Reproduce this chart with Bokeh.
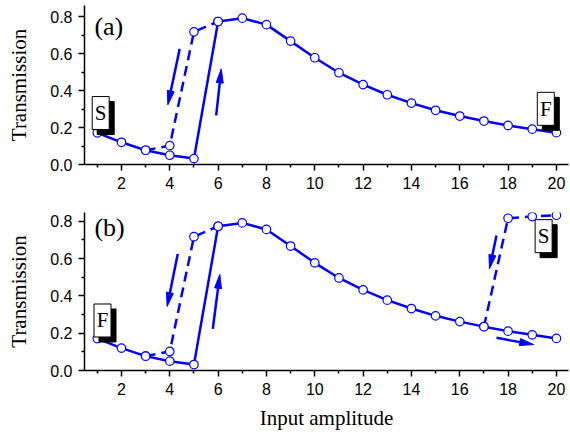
import math
from bokeh.plotting import figure
from bokeh.layouts import column
from bokeh.models import Range1d, FixedTicker, NumeralTickFormatter
from bokeh.core.properties import value
from bokeh.embed import file_html
from bokeh.resources import INLINE

# ---------------- data ----------------
amplitude = list(range(1, 21))
trans_forward = [0.171, 0.120, 0.077, 0.050, 0.032, 0.773, 0.791, 0.756, 0.667, 0.577,
                 0.496, 0.432, 0.377, 0.332, 0.293, 0.262, 0.235, 0.211, 0.191, 0.172]
# backward (dashed) branch near the left jump
amp_back_left = [3, 4, 5, 6]
trans_back_left = [0.077, 0.102, 0.717, 0.773]
# upper (dashed) branch on the right, panel (b)
amp_up_right = [17, 18, 19, 20]
trans_up_right = [0.235, 0.816, 0.825, 0.832]

x_ticks = [2, 4, 6, 8, 10, 12, 14, 16, 18, 20]
x_minor = [1, 3, 5, 7, 9, 11, 13, 15, 17, 19]
y_ticks = [0.0, 0.2, 0.4, 0.6, 0.8]
y_minor = [0.1, 0.3, 0.5, 0.7]

panel_labels = ["(a)", "(b)"]

# annotation placement (data coordinates)
label_pos = [(0.88, 0.746), (0.88, 0.766)]
boxes_a = [("S", 1.14, 0.278), ("F", 19.56, 0.301)]
boxes_b = [("F", 1.215, 0.268), ("S", 19.47, 0.72)]
arrows_a = [(4.41, 0.625, 3.92, 0.323), (5.92, 0.265, 6.13, 0.517)]
arrows_b = [(4.33, 0.625, 3.89, 0.343), (5.78, 0.223, 6.07, 0.515),
            (17.52, 0.723, 17.23, 0.545), (17.52, 0.175, 19.06, 0.139)]

BLUE = "#0000ff"
SANS = "Liberation Sans"
SERIF = "Liberation Serif"

X_START, X_END = 0.47, 20.5
FIG_W = 569
BORDER_L, BORDER_R = 84, 1
FRAME_W = FIG_W - BORDER_L - BORDER_R


def make_panel(height, border_top, border_bottom, y_end, label, lpos, boxes, arrows,
               upper_right, xlabel):
    frame_h = height - border_top - border_bottom
    px_x = FRAME_W / (X_END - X_START)
    px_y = frame_h / y_end
    p = figure(width=FIG_W, height=height,
               x_range=Range1d(X_START, X_END), y_range=Range1d(0, y_end),
               output_backend="svg", toolbar_location=None,
               min_border_left=BORDER_L, min_border_right=BORDER_R,
               min_border_top=border_top, min_border_bottom=border_bottom)
    p.xgrid.visible = False
    p.ygrid.visible = False
    p.outline_line_color = None

    for ax in (p.xaxis[0], p.yaxis[0]):
        ax.axis_line_color = "black"
        ax.axis_line_width = 1.5
        ax.major_tick_line_width = 1.5
        ax.minor_tick_line_width = 1.5
        ax.major_tick_in = 0
        ax.major_tick_out = 6
        ax.minor_tick_in = 0
        ax.minor_tick_out = 3
        ax.major_label_text_font = SANS
        ax.major_label_text_font_size = "16px"
        ax.major_label_text_color = "black"
        ax.axis_label_text_font = SERIF
        ax.axis_label_text_font_size = "21px"
        ax.axis_label_text_font_style = "normal"
        ax.axis_label_text_color = "black"

    p.xaxis.ticker = FixedTicker(ticks=x_ticks, minor_ticks=x_minor)
    p.yaxis.ticker = FixedTicker(ticks=y_ticks, minor_ticks=y_minor)
    p.yaxis.formatter = NumeralTickFormatter(format="0.0")
    p.xaxis.major_label_standoff = 6
    p.yaxis.major_label_standoff = 6
    p.yaxis.axis_label = "Transmission"
    p.yaxis.axis_label_standoff = 16
    if xlabel:
        p.xaxis.axis_label = xlabel
        p.xaxis.axis_label_standoff = 8

    # lines
    p.line(amp_back_left, trans_back_left, line_color=BLUE, line_width=2.5, line_dash="10 6")
    if upper_right:
        p.line(amp_up_right, trans_up_right, line_color=BLUE, line_width=2.5, line_dash="10 6")
    p.line(amplitude, trans_forward, line_color=BLUE, line_width=2.5)

    # markers
    p.scatter(amp_back_left, trans_back_left, size=8.5, fill_color="white",
              line_color=BLUE, line_width=1.2)
    if upper_right:
        p.scatter(amp_up_right, trans_up_right, size=8.5, fill_color="white",
                  line_color=BLUE, line_width=1.2)
    p.scatter(amplitude, trans_forward, size=8.5, fill_color="white",
              line_color=BLUE, line_width=1.2)

    # arrows: shaft + narrow filled head (head computed in pixel space)
    head_len, head_half = 14.0, 3.5
    sx0, sy0, sx1, sy1, hx, hy = [], [], [], [], [], []
    for (xs, ys, xe, ye) in arrows:
        dxp = (xe - xs) * px_x
        dyp = (ye - ys) * px_y
        L = math.hypot(dxp, dyp)
        ux, uy = dxp / L, dyp / L
        nx, ny = -uy, ux
        base_x = xe - ux * head_len / px_x
        base_y = ye - uy * head_len / px_y
        sx0.append(xs); sy0.append(ys)
        sx1.append(xe - ux * (head_len - 3) / px_x); sy1.append(ye - uy * (head_len - 3) / px_y)
        hx.append([xe, base_x + nx * head_half / px_x, base_x - nx * head_half / px_x])
        hy.append([ye, base_y + ny * head_half / px_y, base_y - ny * head_half / px_y])
    p.segment(sx0, sy0, sx1, sy1, line_color=BLUE, line_width=2.5)
    p.patches(hx, hy, fill_color=BLUE, line_color=BLUE, line_width=1)

    # S / F boxes with shadow
    dx, dy = 5 / px_x, 5 / px_y
    bx = [b[1] for b in boxes]
    by = [b[2] for b in boxes]
    bt = [b[0] for b in boxes]
    p.rect([v + dx for v in bx], [v - dy for v in by], width=17, height=33,
           width_units="screen", height_units="screen",
           fill_color="black", line_color="black")
    p.rect(bx, by, width=17, height=33, width_units="screen", height_units="screen",
           fill_color="white", line_color="black", line_width=1)
    p.text(bx, by, text=bt, text_font=value(SERIF), text_font_size="21px",
           text_align="center", text_baseline="middle", text_color="black")

    # panel label
    p.text([lpos[0]], [lpos[1]], text=[label], text_font=value(SERIF),
           text_font_size="26px", text_align="left", text_baseline="middle",
           text_color="black")
    return p


# panel (a): frame 5..164 px, 185 px per unit
p1 = make_panel(198, 5, 34, 159 / 185, panel_labels[0], label_pos[0], boxes_a, arrows_a,
                False, None)
# panel (b): frame 212..370 px, 186.6 px per unit
p2 = make_panel(236, 14, 64, 158 / 186.6, panel_labels[1], label_pos[1], boxes_b, arrows_b,
                True, "Input amplitude")

layout = column(p1, p2, spacing=0)
open("out.html", "w").write(file_html(layout, INLINE))
